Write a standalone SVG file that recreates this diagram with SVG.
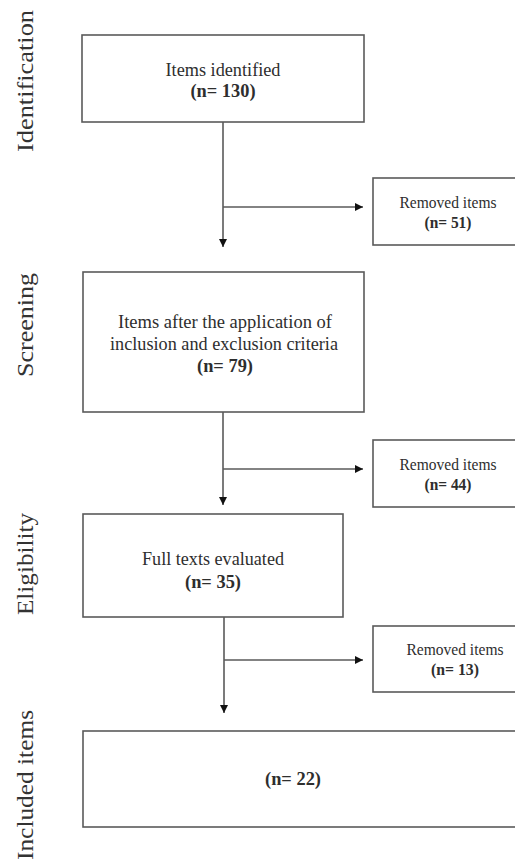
<svg xmlns="http://www.w3.org/2000/svg" width="515" height="861" viewBox="0 0 515 861">
  <style>
    .box { fill: #ffffff; stroke: #5a5a5a; stroke-width: 1.6; }
    .edge { fill: none; stroke: #5a5a5a; stroke-width: 1.6; }
    .txt { font-family: "Liberation Serif", "Times New Roman", serif; fill: #2e2e2e; text-anchor: middle; }
    .main { font-size: 19.5px; }
    .side { font-size: 16.5px; }
    .num { font-weight: bold; }
    .phase { font-family: "Liberation Serif", "Times New Roman", serif; font-size: 23px; fill: #333333; text-anchor: middle; }
  </style>
  <defs>
    <marker id="arrow" markerUnits="userSpaceOnUse" markerWidth="9" markerHeight="8" refX="8" refY="4" orient="auto">
      <path d="M0,0 L8,4 L0,8 Z" fill="#111111"/>
    </marker>
  </defs>
  <rect width="515" height="861" fill="#ffffff"/>

  <!-- phase labels, reading bottom to top -->
  <g id="phases">
    <text class="phase" transform="translate(33,81) rotate(-90)" textLength="142" lengthAdjust="spacingAndGlyphs">Identification</text>
    <text class="phase" transform="translate(33,325) rotate(-90)" textLength="104" lengthAdjust="spacingAndGlyphs">Screening</text>
    <text class="phase" transform="translate(33,564) rotate(-90)" textLength="102" lengthAdjust="spacingAndGlyphs">Eligibility</text>
    <text class="phase" transform="translate(33,785) rotate(-90)" textLength="150" lengthAdjust="spacingAndGlyphs">Included items</text>
  </g>

  <!-- connectors -->
  <g id="connectors">
    <path class="edge" d="M223,122 V247" marker-end="url(#arrow)"/>
    <path class="edge" d="M223,207 H363" marker-end="url(#arrow)"/>
    <path class="edge" d="M223,412 V505" marker-end="url(#arrow)"/>
    <path class="edge" d="M223,469 H363" marker-end="url(#arrow)"/>
    <path class="edge" d="M224,617 V713" marker-end="url(#arrow)"/>
    <path class="edge" d="M224,660 H363" marker-end="url(#arrow)"/>
  </g>

  <g id="identified">
    <rect class="box" x="82" y="35" width="282" height="87"/>
    <text class="txt main" x="223" y="76" textLength="115" lengthAdjust="spacingAndGlyphs">Items identified</text>
    <text class="txt main num" x="223" y="97" textLength="65" lengthAdjust="spacingAndGlyphs">(n= 130)</text>
  </g>

  <g id="removed1">
    <rect class="box" x="373" y="178" width="150" height="67"/>
    <text class="txt side" x="448" y="208" textLength="97" lengthAdjust="spacingAndGlyphs">Removed items</text>
    <text class="txt side num" x="448" y="228" textLength="47" lengthAdjust="spacingAndGlyphs">(n= 51)</text>
  </g>

  <g id="screened">
    <rect class="box" x="83" y="272" width="281" height="140"/>
    <text class="txt main" x="225" y="328" textLength="214" lengthAdjust="spacingAndGlyphs">Items after the application of</text>
    <text class="txt main" x="224" y="350" textLength="228" lengthAdjust="spacingAndGlyphs">inclusion and exclusion criteria</text>
    <text class="txt main num" x="225" y="372" textLength="56" lengthAdjust="spacingAndGlyphs">(n= 79)</text>
  </g>

  <g id="removed2">
    <rect class="box" x="373" y="440" width="150" height="67"/>
    <text class="txt side" x="448" y="470" textLength="97" lengthAdjust="spacingAndGlyphs">Removed items</text>
    <text class="txt side num" x="448" y="490" textLength="47" lengthAdjust="spacingAndGlyphs">(n= 44)</text>
  </g>

  <g id="fulltexts">
    <rect class="box" x="83" y="514" width="260" height="103"/>
    <text class="txt main" x="213" y="565" textLength="142" lengthAdjust="spacingAndGlyphs">Full texts evaluated</text>
    <text class="txt main num" x="213" y="588" textLength="56" lengthAdjust="spacingAndGlyphs">(n= 35)</text>
  </g>

  <g id="removed3">
    <rect class="box" x="373" y="626" width="150" height="66"/>
    <text class="txt side" x="455" y="655" textLength="97" lengthAdjust="spacingAndGlyphs">Removed items</text>
    <text class="txt side num" x="455" y="675" textLength="48" lengthAdjust="spacingAndGlyphs">(n= 13)</text>
  </g>

  <g id="included">
    <rect class="box" x="83" y="731" width="440" height="96"/>
    <text class="txt main num" x="293" y="785" textLength="56" lengthAdjust="spacingAndGlyphs">(n= 22)</text>
  </g>
</svg>
